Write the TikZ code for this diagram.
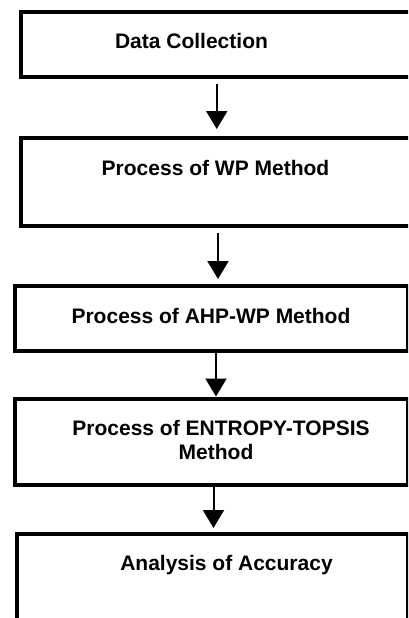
\documentclass[tikz,border=0pt]{standalone}
\usepackage{fontspec}
\setmainfont{Liberation Sans}
\usetikzlibrary{arrows.meta}
\begin{document}
\begin{tikzpicture}[x=1pt,y=-1pt,
  box/.style={draw=black,line width=4pt,rectangle,inner sep=0pt},
  lbl/.style={inner sep=0pt,anchor=base,font=\fontsize{21}{24}\selectfont\bfseries},
  arr/.style={line width=2pt,-{Triangle[width=21pt,length=18pt]}}]
\useasboundingbox (0,0) rectangle (408,618);
\clip (0,0) rectangle (408,618);
\fill[white] (0,0) rectangle (408,618);
% boxes
\node[box,minimum width=394.5pt,minimum height=64.5pt] (b1) at (217.75,44.25) {};
\node[box,minimum width=394pt,minimum height=88pt] (b2) at (218,181.5) {};
\node[box,minimum width=393pt,minimum height=65pt] (b3) at (211.5,318) {};
\node[box,minimum width=393pt,minimum height=86.5pt] (b4) at (211.5,441.75) {};
\node[box,minimum width=391.5pt,minimum height=96pt] (b5) at (212.25,582) {};
% labels
\node[lbl] (t1) at (191.5,48.3) {Data Collection};
\node[lbl] (t2) at (215.5,175) {Process of WP Method};
\node[lbl] (t3) at (211,323) {Process of AHP-WP Method};
\node[lbl] (t4a) at (221,435) {Process of ENTROPY-TOPSIS};
\node[lbl] (t4b) at (216,459) {Method};
\node[lbl] (t5) at (226.5,570) {Analysis of Accuracy};
% arrows
\draw[arr,shorten <=5.5pt,shorten >=6.5pt] ([xshift=-1pt]b1.south) -- ([xshift=-1pt]b1.south |- b2.north);
\draw[arr,shorten <=5.5pt,shorten >=4.5pt] (b2.south) -- (b2.south |- b3.north);
\draw[arr] ([xshift=4.5pt]b3.south) -- ([xshift=4.5pt]b3.south |- b4.north);
\draw[arr,shorten >=4pt] ([xshift=2pt]b4.south) -- ([xshift=2pt]b4.south |- b5.north);
\end{tikzpicture}
\end{document}
